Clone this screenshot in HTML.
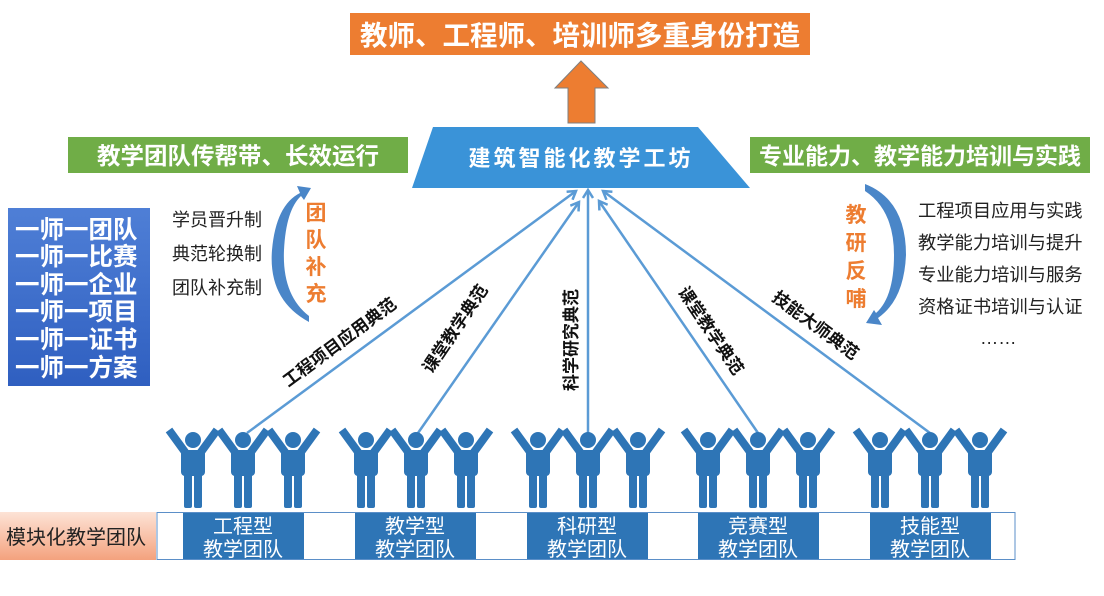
<!DOCTYPE html>
<html><head><meta charset="utf-8"><style>
html,body{margin:0;padding:0;background:#fff;}
svg{display:block;}
text{font-family:"Liberation Sans","Noto Sans CJK SC",sans-serif;}
</style></head><body>
<svg width="1104" height="596" viewBox="0 0 1104 596" xmlns="http://www.w3.org/2000/svg">
<defs>
<linearGradient id="bl" x1="0" y1="0" x2="0" y2="1"><stop offset="0" stop-color="#4f7fd6"/><stop offset="1" stop-color="#2f5fc0"/></linearGradient>
<linearGradient id="sa" x1="0" y1="0" x2="0" y2="1"><stop offset="0" stop-color="#fde3d6"/><stop offset="1" stop-color="#f4a27e"/></linearGradient>
<marker id="ah" markerWidth="12" markerHeight="12" refX="9" refY="6" orient="auto" markerUnits="userSpaceOnUse"><path d="M1,1 L9,6 L1,11" fill="none" stroke="#5b9bd5" stroke-width="2.5"/></marker>
<g id="p" fill="#2e75b6">
<circle cx="0" cy="440" r="8"/>
<path d="M-24,430 L-8,452 L-8,472 L8,472 L8,452 L24,430" fill="none" stroke="#2e75b6" stroke-width="8" stroke-linejoin="round"/>
<rect x="-9" y="450" width="18" height="24"/>
<rect x="-9" y="470" width="8" height="38" rx="2"/>
<rect x="1" y="470" width="8" height="38" rx="2"/>
</g>
<g id="g3"><use href="#p" x="-50"/><use href="#p" x="0"/><use href="#p" x="50"/></g>
</defs>

<rect x="350" y="13" width="460" height="42" fill="#ed7d31"/>
<text x="580" y="45" font-size="27.5" font-weight="bold" fill="#fff" text-anchor="middle">教师、工程师、培训师多重身份打造</text>
<path d="M568,123 L568,88 L555,88 L581,61 L608,88 L595,88 L595,123 Z" fill="#ed7d31" stroke="#7f7f7f" stroke-width="1"/>
<path d="M433,127 L698,127 L750,188 L412,188 Z" fill="#3a93d8"/>
<text x="581" y="166" font-size="22" font-weight="bold" fill="#fff" text-anchor="middle" letter-spacing="3">建筑智能化教学工坊</text>
<rect x="68" y="137" width="340" height="36" fill="#70ad47"/>
<text x="238" y="164" font-size="23.5" font-weight="bold" fill="#fff" text-anchor="middle">教学团队传帮带、长效运行</text>
<rect x="750" y="137" width="340" height="36" fill="#70ad47"/>
<text x="920" y="164" font-size="23" font-weight="bold" fill="#fff" text-anchor="middle">专业能力、教学能力培训与实践</text>
<rect x="8" y="208" width="142" height="178" fill="url(#bl)"/>
<g font-size="24.5" font-weight="bold" fill="#fff">
<text x="15" y="238">一师一团队</text><text x="15" y="265">一师一比赛</text><text x="15" y="293">一师一企业</text>
<text x="15" y="320">一师一项目</text><text x="15" y="348">一师一证书</text><text x="15" y="376">一师一方案</text>
</g>
<g font-size="18" fill="#222">
<text x="172" y="226">学员晋升制</text><text x="172" y="260">典范轮换制</text><text x="172" y="294">团队补充制</text>
</g>
<path d="M309,322 Q268,300 272,250 Q276,205 300,193 L297,186 L311,188 L304,200 L301,196 Q286,210 284,250 Q282,295 309,316 Z" fill="#4a86c8"/>
<g font-size="21" font-weight="bold" fill="#ed7d31" text-anchor="middle">
<text x="316" y="220">团</text><text x="316" y="247">队</text><text x="316" y="274">补</text><text x="316" y="301">充</text>
</g>
<path d="M865,184 Q906,200 906,255 Q904,300 878,318 L882,325 L866,323 L874,310 L876,313 Q894,297 894,255 Q894,210 865,191 Z" fill="#4a86c8"/>
<g font-size="21" font-weight="bold" fill="#ed7d31" text-anchor="middle">
<text x="856" y="222">教</text><text x="856" y="250">研</text><text x="856" y="278">反</text><text x="856" y="306">哺</text>
</g>
<g font-size="18.3" fill="#222">
<text x="918" y="217">工程项目应用与实践</text><text x="918" y="249">教学能力培训与提升</text>
<text x="918" y="281">专业能力培训与服务</text><text x="918" y="313">资格证书培训与认证</text>
<text x="980" y="344">……</text>
</g>
<g stroke="#5b9bd5" stroke-width="2.5" fill="none" marker-end="url(#ah)">
<line x1="247" y1="433" x2="576" y2="191"/>
<line x1="418" y1="433" x2="579" y2="202"/>
<line x1="588" y1="433" x2="588" y2="190"/>
<line x1="758" y1="433" x2="599" y2="201"/>
<line x1="930" y1="433" x2="603" y2="191"/>
</g>
<g font-size="17" font-weight="bold" fill="#111" text-anchor="middle">
<text transform="translate(343,347) rotate(-36.5)">工程项目应用典范</text>
<text transform="translate(460,332) rotate(-56)">课堂教学典范</text>
<text transform="translate(577,340) rotate(-90)">科学研究典范</text>
<text transform="translate(706,334) rotate(56)">课堂教学典范</text>
<text transform="translate(812,330) rotate(36.5)">技能大师典范</text>
</g>
<use href="#g3" x="243"/><use href="#g3" x="416"/><use href="#g3" x="588"/><use href="#g3" x="758"/><use href="#g3" x="930"/>
<rect x="0" y="512" width="156" height="48" fill="url(#sa)"/>
<text x="76" y="544" font-size="20" fill="#222" text-anchor="middle">模块化教学团队</text>
<rect x="157" y="512.5" width="858" height="47" fill="#fff" stroke="#5b8fc8" stroke-width="1"/>
<g fill="#2e75b6">
<rect x="183" y="513" width="121" height="46"/><rect x="355" y="513" width="121" height="46"/>
<rect x="527" y="513" width="121" height="46"/><rect x="698" y="513" width="121" height="46"/>
<rect x="870" y="513" width="121" height="46"/>
</g>
<g font-size="20" fill="#fff" text-anchor="middle">
<text x="243" y="533">工程型</text><text x="243" y="556">教学团队</text>
<text x="415" y="533">教学型</text><text x="415" y="556">教学团队</text>
<text x="587" y="533">科研型</text><text x="587" y="556">教学团队</text>
<text x="758" y="533">竞赛型</text><text x="758" y="556">教学团队</text>
<text x="930" y="533">技能型</text><text x="930" y="556">教学团队</text>
</g>
</svg>
</body></html>
